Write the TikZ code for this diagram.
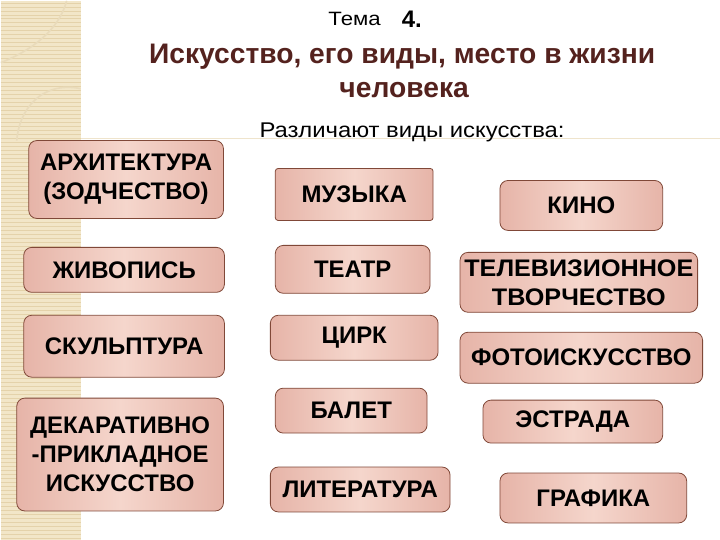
\documentclass[tikz,border=0pt]{standalone}
\usepackage{fontspec}
\setmainfont{Liberation Sans}
\definecolor{titlebrown}{RGB}{84,34,30}
\definecolor{boxedge}{RGB}{128,72,56}
\definecolor{boxdark}{RGB}{230,180,168}
\definecolor{boxlight}{RGB}{245,214,204}
\definecolor{stripbg}{RGB}{242,230,200}
\definecolor{stripline}{RGB}{228,210,170}
\tikzset{
  artbox/.style={draw=boxedge, line width=0.6pt, rounded corners=6pt,
    left color=boxdark, right color=boxdark, middle color=boxlight,
    inner sep=0pt, align=center, font=\fontsize{18}{21.75}\selectfont\bfseries},
}
\begin{document}
\begin{tikzpicture}[x=0.75pt,y=0.75pt,yscale=-1,xscale=1]
\path (0,0) rectangle (720,540); %set diagram size 720x540

%Shape: background strip
\fill [stripbg] (0,0) rectangle (80,540);
\foreach \yy in {2,6,...,538} {
  \draw [stripline, line width=0.4pt] (0,\yy) -- (80,\yy);
}
\draw [stripline!80!white, line width=1.2pt] (66,0) .. controls (58,30) and (30,50) .. (0,62);
\draw [stripline!80!white, line width=1.2pt] (80,88) .. controls (40,80) and (18,110) .. (16,140);
\draw [stripline!60!white, line width=0.6pt] (80,138) -- (720,138);

% Text Node
\node (tema) [anchor=base east, xscale=1.15, font=\fontsize{14.5}{17}\selectfont] at (386,25) {Тема};
% Text Node
\node (nomer) [anchor=base west, font=\fontsize{18}{21}\selectfont\bfseries] at (397,27) {4.};
% Text Node
\node (title) [anchor=base, text=titlebrown, font=\fontsize{21.2}{26}\selectfont\bfseries] at (402,63) {Искусство, его виды, место в жизни};
% Text Node
\node (title2) [anchor=base, text=titlebrown, font=\fontsize{21.2}{26}\selectfont\bfseries] at (404,97) {человека};
% Text Node
\node (vidy) [anchor=base, xscale=1.12, font=\fontsize{16}{19}\selectfont] at (412,137) {Различают виды искусства:};

% Left column
\node (arch) [artbox, minimum width=146.25pt, minimum height=58.5pt] at (125.5,179) {АРХИТЕКТУРА\\(ЗОДЧЕСТВО)};
\node (zhiv) [artbox, minimum width=150.75pt, minimum height=33.75pt] at (123.5,269.5) {ЖИВОПИСЬ};
\node (skulp) [artbox, minimum width=150.75pt, minimum height=46.5pt] at (123.5,346) {СКУЛЬПТУРА};
\node (dekor) [artbox, minimum width=155.25pt, minimum height=84.75pt] at (119.5,454.5) {ДЕКАРАТИВНО\\-ПРИКЛАДНОЕ\\ИСКУССТВО};

% Middle column
\node (muz) [artbox, rounded corners=2pt, minimum width=118.5pt, minimum height=39pt] at (354,194) {МУЗЫКА};
\node (teatr) [artbox, minimum width=116.25pt, minimum height=36pt] at (352.5,269) {ТЕАТР};
\node (tsirk) [artbox, minimum width=126pt, minimum height=33.75pt] at (354,337.5) {ЦИРК};
\node (balet) [artbox, minimum width=114pt, minimum height=33.75pt] at (351,410.5) {БАЛЕТ};
\node (liter) [artbox, minimum width=135pt, minimum height=33.75pt] at (360,489.5) {ЛИТЕРАТУРА};

% Right column
\node (kino) [artbox, minimum width=122.25pt, minimum height=37.5pt] at (581.5,205) {КИНО};
\node (tele) [artbox, xscale=1.05, minimum width=170pt, minimum height=45pt] at (579,282) {ТЕЛЕВИЗИОННОЕ\\ТВОРЧЕСТВО};
\node (foto) [artbox, minimum width=182.25pt, minimum height=38.25pt] at (581.5,357.5) {ФОТОИСКУССТВО};
\node (estr) [artbox, minimum width=135pt, minimum height=32.25pt] at (573,421.5) {ЭСТРАДА};
\node (graf) [artbox, minimum width=140.25pt, minimum height=37.5pt] at (593.5,498) {ГРАФИКА};

\end{tikzpicture}
\end{document}
